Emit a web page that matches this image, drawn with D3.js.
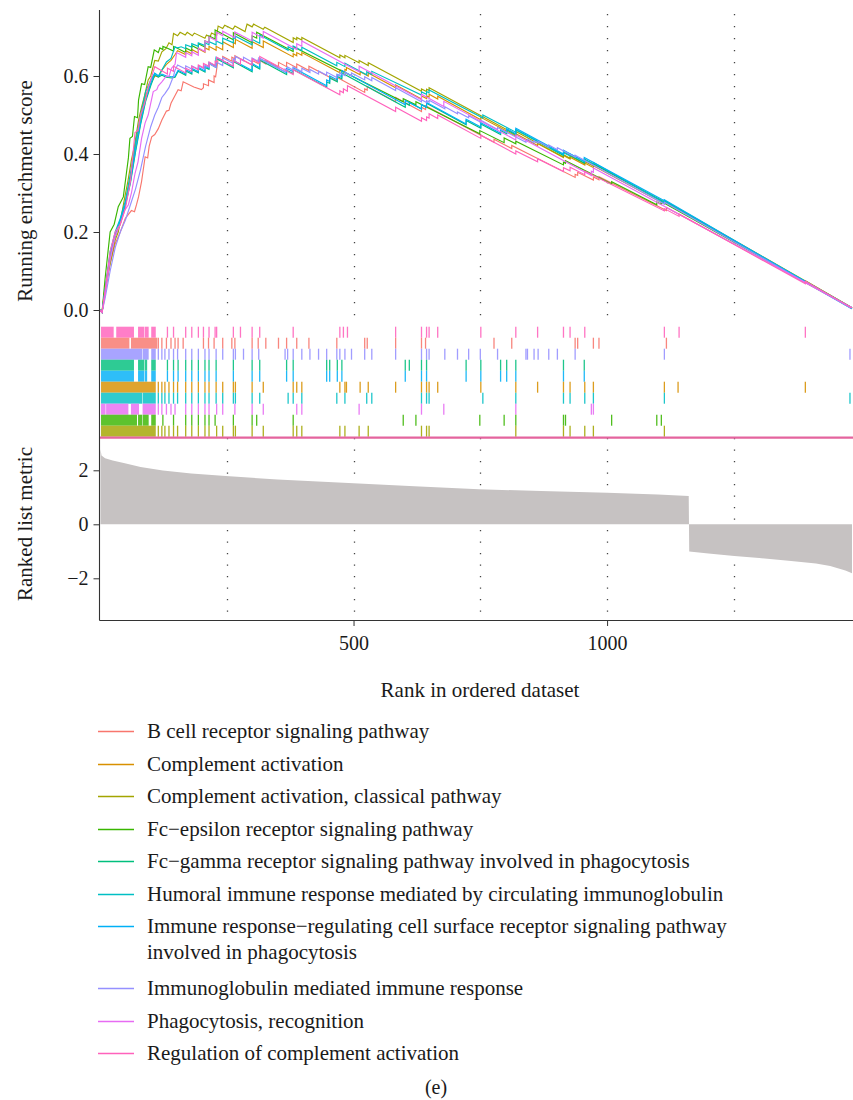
<!DOCTYPE html>
<html>
<head>
<meta charset="utf-8">
<script src="https://cdn.jsdelivr.net/npm/d3@7"></script>
<style>
  body { margin: 0; background: #fff; }
</style>
</head>
<body>
<div id="chart"></div>
<script>
// gene sets, in legend order
const setNames = [
  'B cell receptor signaling pathway',
  'Complement activation',
  'Complement activation, classical pathway',
  'Fc\u2212epsilon receptor signaling pathway',
  'Fc\u2212gamma receptor signaling pathway involved in phagocytosis',
  'Humoral immune response mediated by circulating immunoglobulin',
  'Immune response\u2212regulating cell surface receptor signaling pathway|involved in phagocytosis',
  'Immunoglobulin mediated immune response',
  'Phagocytosis, recognition',
  'Regulation of complement activation'
];
const setColors = ['#F8766D', '#D89000', '#A3A500', '#39B600', '#00BF7D',
                   '#00BFC4', '#00B0F6', '#9590FF', '#E76BF3', '#FF62BC'];

const nRanks = 1483;

// running enrichment score, [rank, ES]
const esBCell = [[0,0],[4,-0.006],[10,0.04],[20,0.12],[30,0.17],[40,0.2],[50,0.235],[56,0.245],[62,0.255],[68,0.252],[72,0.27],[76,0.29],[82,0.33],[89,0.393],[94,0.39],[97,0.42],[102,0.444],[108,0.45],[115,0.465],[122,0.487],[131,0.51],[136,0.512],[140,0.53],[148,0.55],[154,0.565],[160,0.562],[164,0.585],[185,0.572],[200,0.565],[204,0.57],[204,0.58],[214,0.575],[214,0.59],[225,0.583],[225,0.6],[228,0.598],[233,0.645],[242,0.64],[242,0.65],[260,0.638],[260,0.648],[266,0.644],[266,0.652],[300,0.628],[300,0.64],[312,0.632],[312,0.642],[327,0.631],[327,0.64],[352,0.623],[352,0.635],[368,0.624],[368,0.635],[388,0.621],[388,0.631],[412,0.614],[412,0.625],[467,0.587],[467,0.597],[522,0.558],[522,0.567],[527,0.564],[527,0.573],[583,0.534],[583,0.545],[634,0.509],[634,0.52],[642,0.514],[642,0.524],[777,0.43],[777,0.438],[812,0.414],[812,0.422],[937,0.34],[937,0.348],[942,0.345],[942,0.353],[973,0.333],[973,0.341],[984,0.334],[984,0.342],[1117,0.255],[1117,0.263],[1483,0.005]];
const esComplement = [[0,0],[4,-0.006],[10,0.05],[20,0.14],[30,0.19],[40,0.22],[50,0.27],[60,0.34],[70,0.42],[80,0.49],[90,0.55],[100,0.58],[108,0.6],[115,0.598],[122,0.615],[131,0.63],[140,0.64],[148,0.655],[153,0.665],[169,0.655],[169,0.665],[181,0.657],[181,0.668],[194,0.659],[194,0.67],[207,0.661],[207,0.672],[215,0.667],[215,0.676],[229,0.666],[229,0.676],[242,0.667],[242,0.688],[263,0.673],[263,0.686],[267,0.683],[267,0.694],[300,0.671],[300,0.688],[322,0.673],[322,0.69],[381,0.649],[381,0.657],[388,0.652],[388,0.66],[398,0.653],[398,0.66],[473,0.608],[473,0.616],[483,0.609],[483,0.617],[486,0.615],[486,0.622],[513,0.603],[513,0.611],[529,0.6],[529,0.608],[583,0.57],[583,0.577],[634,0.541],[634,0.549],[644,0.542],[644,0.549],[649,0.546],[649,0.553],[666,0.541],[666,0.548],[751,0.488],[751,0.494],[820,0.446],[820,0.452],[863,0.422],[863,0.427],[914,0.391],[914,0.396],[927,0.387],[927,0.392],[956,0.372],[956,0.377],[973,0.365],[973,0.37],[1113,0.272],[1113,0.277],[1140,0.257],[1140,0.26],[1391,0.072],[1391,0.075],[1483,0.006]];
const esClassical = [[0,0],[4,-0.006],[8,0.04],[16,0.094],[22,0.13],[30,0.18],[36,0.2],[42,0.24],[49,0.29],[55,0.33],[62,0.385],[68,0.42],[76,0.487],[82,0.52],[88,0.55],[95,0.59],[100,0.6],[108,0.64],[115,0.638],[122,0.662],[130,0.67],[136,0.685],[142,0.68],[145,0.709],[153,0.703],[158,0.712],[168,0.705],[172,0.712],[182,0.703],[186,0.71],[207,0.697],[210,0.705],[217,0.7],[220,0.71],[230,0.704],[233,0.728],[242,0.722],[246,0.73],[262,0.72],[266,0.728],[286,0.714],[290,0.733],[300,0.726],[303,0.733],[322,0.72],[325,0.725],[381,0.686],[381,0.698],[388,0.693],[388,0.699],[398,0.692],[398,0.699],[473,0.647],[473,0.654],[483,0.647],[483,0.653],[511,0.634],[511,0.64],[529,0.627],[529,0.634],[634,0.561],[634,0.567],[644,0.56],[644,0.566],[649,0.563],[649,0.57],[820,0.45],[820,0.458],[914,0.392],[914,0.398],[927,0.389],[927,0.395],[956,0.375],[956,0.381],[973,0.369],[973,0.375],[1113,0.277],[1113,0.281],[1483,0.006]];
const esFcEpsilon = [[0,0],[4,-0.006],[10,0.08],[20,0.2],[28,0.22],[36,0.265],[46,0.29],[52,0.35],[56,0.39],[59,0.44],[64,0.445],[68,0.496],[74,0.493],[76,0.538],[82,0.58],[88,0.578],[95,0.624],[100,0.622],[107,0.667],[115,0.66],[118,0.672],[124,0.668],[124,0.676],[132,0.672],[145,0.664],[145,0.676],[169,0.66],[169,0.672],[181,0.664],[181,0.678],[194,0.669],[194,0.683],[207,0.674],[207,0.69],[215,0.685],[215,0.703],[227,0.695],[227,0.718],[263,0.693],[263,0.711],[300,0.685],[300,0.703],[309,0.697],[309,0.712],[381,0.663],[381,0.675],[598,0.534],[598,0.542],[623,0.526],[623,0.534],[749,0.452],[749,0.46],[797,0.429],[797,0.441],[820,0.426],[820,0.433],[914,0.372],[914,0.379],[918,0.376],[918,0.383],[1009,0.323],[1009,0.329],[1098,0.27],[1098,0.277],[1107,0.271],[1107,0.278],[1483,0.005]];
const esFcGamma = [[0,0],[4,-0.006],[10,0.05],[20,0.14],[30,0.19],[40,0.228],[50,0.268],[60,0.325],[70,0.405],[80,0.475],[90,0.535],[100,0.575],[108,0.603],[115,0.597],[122,0.602],[131,0.597],[141,0.595],[148,0.597],[154,0.612],[169,0.602],[169,0.613],[181,0.605],[181,0.617],[194,0.608],[194,0.619],[207,0.61],[207,0.622],[215,0.617],[215,0.632],[229,0.622],[229,0.645],[263,0.621],[263,0.637],[300,0.611],[300,0.629],[315,0.618],[315,0.641],[368,0.604],[368,0.615],[381,0.606],[381,0.617],[447,0.571],[447,0.585],[453,0.581],[453,0.595],[468,0.585],[468,0.599],[477,0.593],[477,0.608],[602,0.52],[602,0.531],[610,0.525],[610,0.533],[634,0.516],[634,0.526],[644,0.519],[644,0.53],[722,0.475],[722,0.486],[751,0.466],[751,0.477],[790,0.45],[790,0.46],[802,0.452],[802,0.462],[820,0.449],[820,0.462],[914,0.396],[914,0.406],[955,0.377],[955,0.387],[1113,0.276],[1113,0.28],[1483,0.003]];
const esHumoral = [[0,0],[4,-0.006],[10,0.05],[20,0.15],[30,0.2],[40,0.235],[50,0.28],[60,0.35],[70,0.43],[80,0.5],[90,0.56],[100,0.59],[108,0.607],[115,0.6],[122,0.615],[131,0.636],[140,0.645],[148,0.675],[153,0.672],[160,0.675],[169,0.67],[169,0.68],[181,0.674],[181,0.683],[194,0.676],[194,0.685],[207,0.678],[207,0.685],[215,0.68],[215,0.688],[229,0.68],[229,0.69],[242,0.682],[242,0.697],[263,0.685],[263,0.698],[267,0.696],[267,0.702],[300,0.68],[300,0.694],[315,0.684],[315,0.705],[371,0.666],[371,0.675],[381,0.668],[381,0.677],[398,0.665],[398,0.674],[467,0.626],[467,0.635],[483,0.624],[483,0.633],[526,0.603],[526,0.611],[536,0.604],[536,0.612],[634,0.551],[634,0.559],[644,0.553],[644,0.56],[649,0.557],[649,0.564],[755,0.492],[755,0.5],[820,0.456],[820,0.462],[914,0.398],[914,0.403],[927,0.395],[927,0.4],[956,0.38],[956,0.385],[973,0.373],[973,0.378],[1113,0.275],[1113,0.279],[1483,0.006]];
const esImmuneReg = [[0,0],[4,-0.006],[10,0.05],[20,0.14],[30,0.19],[40,0.23],[50,0.27],[60,0.33],[70,0.41],[80,0.48],[90,0.54],[100,0.58],[108,0.607],[115,0.6],[122,0.605],[131,0.6],[141,0.598],[148,0.6],[154,0.615],[169,0.605],[169,0.616],[181,0.608],[181,0.62],[194,0.611],[194,0.622],[207,0.613],[207,0.625],[215,0.62],[215,0.635],[229,0.625],[229,0.648],[263,0.624],[263,0.64],[300,0.614],[300,0.632],[315,0.621],[315,0.645],[368,0.608],[368,0.62],[381,0.611],[381,0.621],[447,0.575],[447,0.59],[453,0.586],[453,0.6],[468,0.59],[468,0.604],[477,0.598],[477,0.614],[602,0.526],[602,0.537],[634,0.515],[634,0.527],[644,0.52],[644,0.532],[722,0.477],[722,0.489],[751,0.469],[751,0.48],[790,0.453],[790,0.463],[802,0.455],[802,0.465],[820,0.452],[820,0.466],[914,0.4],[914,0.41],[955,0.381],[955,0.391],[1113,0.28],[1113,0.283],[1483,0.003]];
const esImmunoglobulin = [[0,0],[4,-0.006],[10,0.03],[20,0.1],[30,0.16],[40,0.2],[50,0.23],[60,0.27],[70,0.31],[80,0.36],[90,0.42],[100,0.47],[108,0.5],[115,0.52],[122,0.545],[128,0.555],[136,0.57],[145,0.6],[148,0.615],[153,0.628],[169,0.618],[169,0.626],[181,0.618],[181,0.626],[194,0.617],[194,0.626],[207,0.617],[207,0.628],[215,0.622],[215,0.632],[229,0.622],[229,0.636],[242,0.627],[242,0.647],[263,0.632],[263,0.644],[267,0.641],[267,0.65],[283,0.639],[283,0.648],[300,0.636],[300,0.646],[313,0.637],[313,0.646],[365,0.61],[365,0.618],[370,0.615],[370,0.623],[381,0.615],[381,0.623],[398,0.611],[398,0.62],[414,0.609],[414,0.617],[431,0.605],[431,0.613],[447,0.602],[447,0.61],[467,0.596],[467,0.604],[473,0.6],[473,0.608],[483,0.601],[483,0.609],[496,0.6],[496,0.608],[522,0.59],[522,0.598],[536,0.588],[536,0.596],[583,0.563],[583,0.57],[634,0.534],[634,0.539],[644,0.532],[644,0.537],[649,0.533],[649,0.538],[680,0.516],[680,0.521],[705,0.503],[705,0.508],[727,0.493],[727,0.498],[750,0.482],[750,0.487],[784,0.463],[784,0.468],[840,0.43],[840,0.435],[843,0.433],[843,0.438],[856,0.429],[856,0.434],[864,0.428],[864,0.433],[885,0.418],[885,0.423],[902,0.411],[902,0.416],[937,0.392],[937,0.397],[1113,0.272],[1113,0.276],[1479,0.006],[1479,0.009],[1483,0.006]];
const esPhagocytosis = [[0,0],[4,-0.006],[10,0.04],[20,0.13],[30,0.19],[40,0.22],[49,0.256],[56,0.27],[62,0.3],[69,0.35],[75,0.38],[82,0.44],[89,0.48],[95,0.5],[100,0.53],[105,0.56],[112,0.565],[115,0.575],[122,0.585],[131,0.6],[136,0.598],[141,0.62],[148,0.63],[151,0.66],[169,0.648],[169,0.66],[181,0.652],[181,0.662],[194,0.653],[194,0.672],[207,0.663],[207,0.69],[215,0.685],[215,0.7],[230,0.69],[230,0.712],[242,0.703],[242,0.715],[266,0.698],[266,0.713],[300,0.69],[300,0.712],[322,0.697],[322,0.714],[388,0.668],[388,0.683],[398,0.676],[398,0.69],[511,0.611],[511,0.625],[634,0.539],[634,0.553],[678,0.522],[678,0.535],[820,0.436],[820,0.449],[969,0.345],[969,0.356],[973,0.353],[973,0.364],[1483,0.006]];
const esRegulation = [[0,0],[4,-0.006],[10,0.05],[20,0.15],[30,0.2],[40,0.22],[50,0.26],[60,0.33],[69,0.455],[75,0.46],[80,0.5],[88,0.53],[95,0.57],[100,0.59],[108,0.624],[120,0.615],[133,0.605],[133,0.62],[145,0.612],[145,0.625],[169,0.608],[169,0.62],[181,0.612],[181,0.625],[194,0.616],[194,0.628],[204,0.621],[204,0.632],[215,0.625],[215,0.636],[227,0.627],[227,0.638],[230,0.636],[230,0.648],[263,0.625],[263,0.64],[277,0.63],[277,0.644],[300,0.628],[300,0.644],[315,0.633],[315,0.65],[381,0.604],[381,0.616],[473,0.552],[473,0.562],[480,0.557],[480,0.567],[488,0.561],[488,0.575],[583,0.509],[583,0.52],[634,0.484],[634,0.493],[644,0.486],[644,0.495],[649,0.492],[649,0.503],[666,0.491],[666,0.5],[751,0.44],[751,0.448],[820,0.4],[820,0.408],[863,0.38],[863,0.388],[914,0.355],[914,0.365],[927,0.357],[927,0.366],[956,0.347],[956,0.356],[1113,0.254],[1113,0.26],[1142,0.24],[1142,0.246],[1391,0.067],[1391,0.074],[1483,0.005]];

// gene hits: dense blocks near the top of the list, then single hits
const blocksBCell = [[3,57],[62,112]];
const blocksComplement = [[3,109]];
const blocksClassical = [[3,109]];
const blocksFcEpsilon = [[3,72],[76,82],[85,95],[102,109]];
const blocksFcGamma = [[3,66],[76,86],[89,92],[102,109]];
const blocksHumoral = [[3,82],[85,109]];
const blocksImmuneReg = [[3,66],[76,86],[89,92],[102,109]];
const blocksImmunoglobulin = [[3,82],[85,95],[102,109]];
const blocksPhagocytosis = [[3,10],[13,55],[62,76],[85,109]];
const blocksRegulation = [[3,26],[33,66],[76,86],[89,95],[102,109]];

const hitsBCell = [115,122,131,140,148,154,164,204,214,225,242,260,266,300,312,327,352,368,388,412,467,522,527,583,634,642,777,812,937,942,973,984,1117];
const hitsComplement = [115,122,128,136,145,153,169,181,194,207,215,229,242,263,267,300,322,381,388,398,473,483,486,513,529,583,634,644,649,666,751,820,863,914,927,956,973,1113,1140,1391];
const hitsClassical = [115,122,128,136,145,153,169,181,194,207,215,230,242,263,267,300,322,381,388,398,473,483,511,529,634,644,649,820,914,927,956,973,1113];
const hitsFcEpsilon = [124,145,169,181,194,207,215,227,263,300,309,381,598,623,749,797,820,914,918,1009,1098,1107];
const hitsFcGamma = [133,145,154,169,181,194,207,215,229,263,300,315,368,381,447,453,468,477,602,610,634,644,722,751,790,802,820,914,955];
const hitsHumoral = [115,122,128,136,145,153,169,181,194,207,215,229,242,263,267,300,315,371,381,398,467,483,526,536,634,644,649,755,820,914,927,956,973,1113,1479];
const hitsImmuneReg = [133,145,154,169,181,194,207,215,229,263,300,315,368,381,447,453,468,477,602,634,644,722,751,790,802,820,914,955];
const hitsImmunoglobulin = [115,122,128,136,145,153,169,181,194,207,215,229,242,263,267,283,300,313,365,370,381,398,414,431,447,467,473,483,496,522,536,583,634,644,649,680,705,727,750,784,840,843,856,864,885,902,937,1113,1479];
const hitsPhagocytosis = [115,122,131,140,148,169,181,194,207,215,230,242,266,300,322,388,398,511,634,678,820,969,973];
const hitsRegulation = [133,145,169,181,194,204,215,227,230,263,277,300,315,381,473,480,488,583,634,644,649,666,751,820,863,914,927,956,1113,1142,1391];

// rows of the hit panel, top to bottom (index into setNames)
const hitRowOrder = [9, 0, 7, 4, 6, 1, 5, 8, 3, 2];

// ranked list metric
const metricRank = [1,3,10,25,49,80,124,180,248,350,500,620,747,870,1000,1100,1161,1162,1200,1251,1300,1358,1412,1440,1455,1470,1483];
const metricValue = [2.78,2.55,2.45,2.36,2.26,2.12,1.99,1.88,1.79,1.66,1.52,1.41,1.30,1.23,1.17,1.10,1.05,-1.01,-1.08,-1.17,-1.25,-1.35,-1.45,-1.54,-1.63,-1.71,-1.81];

const esTicks = [0, 0.2, 0.4, 0.6];
const metricTicks = [-2, 0, 2];
const rankTicks = [500, 1000];
const gridRanks = [250, 500, 750, 1000, 1250];

const esSeries = [esBCell, esComplement, esClassical, esFcEpsilon, esFcGamma,
                  esHumoral, esImmuneReg, esImmunoglobulin, esPhagocytosis, esRegulation];
const hitSeries = [hitsBCell, hitsComplement, hitsClassical, hitsFcEpsilon, hitsFcGamma,
                   hitsHumoral, hitsImmuneReg, hitsImmunoglobulin, hitsPhagocytosis, hitsRegulation];
const blockSeries = [blocksBCell, blocksComplement, blocksClassical, blocksFcEpsilon, blocksFcGamma,
                     blocksHumoral, blocksImmuneReg, blocksImmunoglobulin, blocksPhagocytosis, blocksRegulation];

const w = 853, h = 1100;
const left = 99.5, right = 852;
const esTop = 10, esBottom = 325;
const hitTop = 326.7, rowH = 11;
const metTop = 437, metBottom = 620;
const serif = '"Liberation Serif", "Times New Roman", serif';

const svg = d3.select('#chart').append('svg')
  .attr('width', w).attr('height', h)
  .style('display', 'block');

const x = d3.scaleLinear().domain([0, nRanks]).range([100, right]);
const yES = d3.scaleLinear().domain([(310 - esBottom) / 390, (310 - esTop) / 390]).range([esBottom, esTop]);
const yM = d3.scaleLinear().domain([(524.3 - metBottom) / 27, (524.3 - metTop) / 27]).range([metBottom, metTop]);

// dotted guides
svg.append('g').selectAll('line').data(gridRanks).join('line')
  .attr('x1', d => Math.round(x(d)) + 0.5).attr('x2', d => Math.round(x(d)) + 0.5)
  .attr('y1', esTop + 4).attr('y2', esBottom + 1)
  .attr('stroke', '#444').attr('stroke-width', 1.3)
  .attr('stroke-dasharray', '1.3,10.7');
svg.append('g').selectAll('line').data(gridRanks).join('line')
  .attr('x1', d => Math.round(x(d)) + 0.5).attr('x2', d => Math.round(x(d)) + 0.5)
  .attr('y1', metTop + 1).attr('y2', metBottom)
  .attr('stroke', '#444').attr('stroke-width', 1.3)
  .attr('stroke-dasharray', '1.3,10.2');

// running enrichment score lines
const line = d3.line().x(d => x(d[0])).y(d => yES(d[1]));
svg.append('g').selectAll('path').data(esSeries).join('path')
  .attr('d', line)
  .attr('fill', 'none')
  .attr('stroke', (d, i) => setColors[i])
  .attr('stroke-width', 1.15);

// hit panel
hitRowOrder.forEach((si, row) => {
  const g = svg.append('g');
  const y0 = hitTop + row * rowH;
  g.selectAll('rect').data(blockSeries[si]).join('rect')
    .attr('x', d => x(d[0]) - 0.5)
    .attr('width', d => x(d[1]) - x(d[0]) + 1)
    .attr('y', y0).attr('height', rowH)
    .attr('fill', setColors[si]).attr('opacity', 0.82);
  g.selectAll('line').data(hitSeries[si]).join('line')
    .attr('x1', d => x(d)).attr('x2', d => x(d))
    .attr('y1', y0).attr('y2', y0 + rowH)
    .attr('stroke', setColors[si]).attr('stroke-width', 1.3).attr('opacity', 0.88);
});
svg.append('line')
  .attr('x1', left).attr('x2', right + 1)
  .attr('y1', 437.6).attr('y2', 437.6)
  .attr('stroke', '#E4649E').attr('stroke-width', 2.4);

// ranked list metric
const metric = metricRank.map((r, i) => [r, metricValue[i]]);
svg.append('path')
  .datum(metric)
  .attr('d', d3.area().x(d => x(d[0])).y0(yM(0)).y1(d => yM(d[1])))
  .attr('fill', '#C6C2C2');

// axes
const axisColor = '#333';
const gES = svg.append('g').attr('transform', `translate(${left},0)`)
  .call(d3.axisLeft(yES).tickValues(esTicks).tickFormat(d3.format('.1f')).tickSize(6).tickPadding(5));
const gM = svg.append('g').attr('transform', `translate(${left},0)`)
  .call(d3.axisLeft(yM).tickValues(metricTicks).tickFormat(d3.format('d')).tickSize(6).tickPadding(5));
const gX = svg.append('g').attr('transform', `translate(0,${metBottom})`)
  .call(d3.axisBottom(x).tickValues(rankTicks).tickFormat(d3.format('d')).tickSize(6).tickPadding(10).tickSizeOuter(0));
[gES, gM, gX].forEach(g => {
  g.attr('font-family', serif).attr('font-size', 20);
  g.selectAll('.domain').remove();
  g.selectAll('.tick line').attr('stroke', axisColor);
  g.selectAll('.tick text').attr('fill', '#1a1a1a');
});
svg.append('line')
  .attr('x1', left).attr('x2', left).attr('y1', esTop).attr('y2', metBottom + 0.5)
  .attr('stroke', axisColor).attr('stroke-width', 1.1);
svg.append('line')
  .attr('x1', left).attr('x2', right + 1).attr('y1', metBottom + 0.5).attr('y2', metBottom + 0.5)
  .attr('stroke', axisColor).attr('stroke-width', 1.1);

// axis titles
const titles = svg.append('g')
  .attr('font-family', serif).attr('font-size', 21).attr('fill', '#1a1a1a');
titles.append('text')
  .attr('transform', 'translate(32,191) rotate(-90)')
  .attr('text-anchor', 'middle')
  .text('Running enrichment score');
titles.append('text')
  .attr('transform', 'translate(32,524) rotate(-90)')
  .attr('text-anchor', 'middle')
  .text('Ranked list metric');
titles.append('text')
  .attr('x', 480).attr('y', 697)
  .attr('text-anchor', 'middle')
  .text('Rank in ordered dataset');

// legend
const legend = svg.append('g')
  .attr('font-family', serif).attr('font-size', 21).attr('fill', '#1a1a1a');
let ly = 731;
setNames.forEach((name, i) => {
  const parts = name.split('|');
  const g = legend.append('g');
  const ky = Math.round(ly) + 0.5;
  g.append('line')
    .attr('x1', 98).attr('x2', 134).attr('y1', ky).attr('y2', ky)
    .attr('stroke', setColors[i]).attr('stroke-width', 1.3);
  parts.forEach((p, k) => {
    g.append('text')
      .attr('x', 147).attr('y', ly + 7 + k * 26)
      .text(p);
  });
  ly += 32.5 + (parts.length - 1) * 29.5;
});

titles.append('text')
  .attr('x', 436).attr('y', 1094)
  .attr('text-anchor', 'middle').attr('font-size', 20)
  .text('(e)');
</script>
</body>
</html>
